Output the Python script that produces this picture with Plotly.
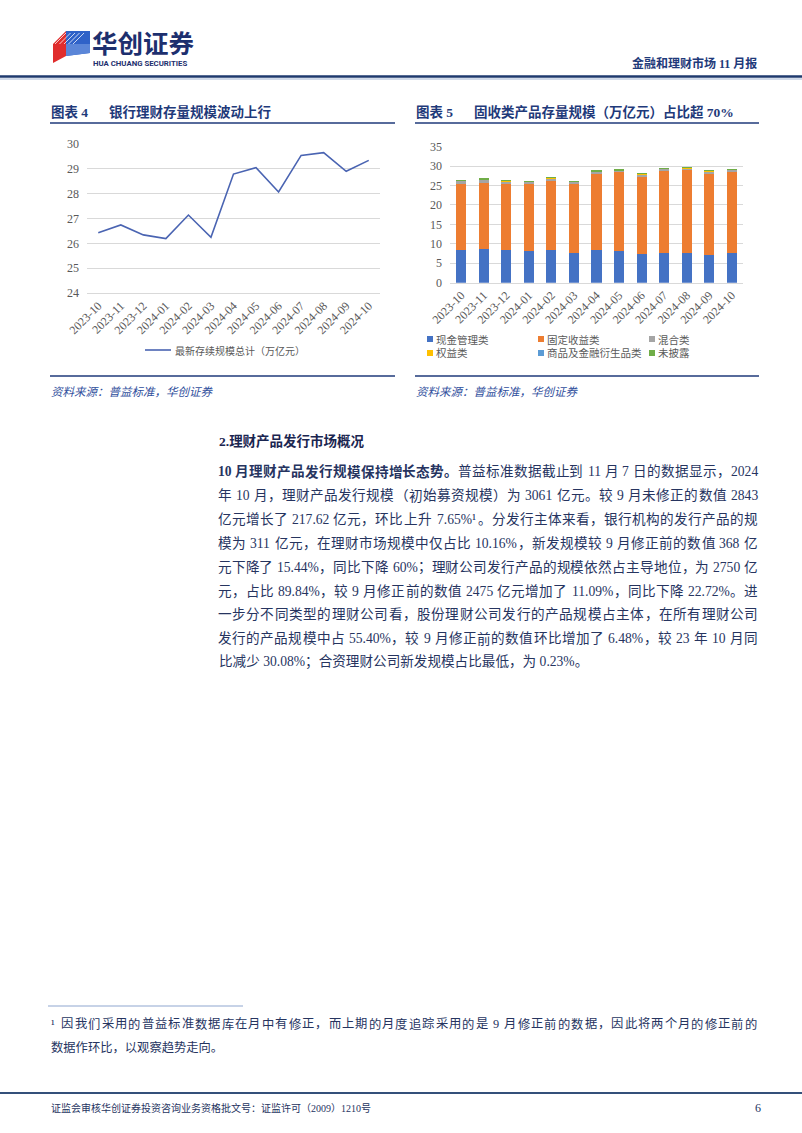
import plotly.graph_objects as go

# ---------------- data ----------------
months = ['2023-10', '2023-11', '2023-12', '2024-01', '2024-02', '2024-03', '2024-04',
          '2024-05', '2024-06', '2024-07', '2024-08', '2024-09', '2024-10']
total_scale = [26.43, 26.74, 26.34, 26.19, 27.14, 26.24, 28.79, 29.05, 28.07, 29.54, 29.65, 28.90, 29.34]
line_name = '最新存续规模总计（万亿元）'

cash_mgmt = [8.4, 8.6, 8.4, 8.1, 8.4, 7.6, 8.5, 8.2, 7.4, 7.6, 7.7, 7.2, 7.6]
fixed_income = [17.0, 17.1, 17.1, 17.3, 17.8, 17.8, 19.5, 20.2, 20.1, 21.2, 21.3, 21.1, 21.0]
mixed = [0.9, 0.9, 0.7, 0.7, 0.8, 0.7, 0.7, 0.55, 0.5, 0.6, 0.55, 0.5, 0.6]
equity = [0.07, 0.07, 0.07, 0.07, 0.07, 0.06, 0.06, 0.06, 0.06, 0.06, 0.06, 0.06, 0.06]
commodity = [0.02, 0.02, 0.02, 0.02, 0.02, 0.02, 0.02, 0.02, 0.02, 0.02, 0.02, 0.02, 0.02]
undisclosed = [0.06, 0.08, 0.06, 0.06, 0.08, 0.06, 0.06, 0.06, 0.05, 0.06, 0.08, 0.05, 0.05]
bar_names = ['现金管理类', '固定收益类', '混合类', '权益类', '商品及金融衍生品类', '未披露']
bar_series = [cash_mgmt, fixed_income, mixed, equity, commodity, undisclosed]
bar_colors = ['#4472C4', '#ED7D31', '#A5A5A5', '#FFC000', '#5B9BD5', '#70AD47']

y1_ticks = [24, 25, 26, 27, 28, 29, 30]
y2_ticks = [0, 5, 10, 15, 20, 25, 30, 35]

# ---------------- helpers ----------------
W, H = 802, 1133
def X(px):
    return px / W
def Y(py):
    return 1 - py / H

SERIF = 'Liberation Serif, Noto Sans CJK SC, serif'
CJK = 'Noto Sans CJK SC, Liberation Serif'
NAVY = '#1F3A7A'
BODY = '#26345f'
GRAY = '#595959'
GRID = '#D9D9D9'

fig = go.Figure()

# chart 4 line
fig.add_trace(go.Scatter(x=months, y=total_scale, mode='lines', name=line_name,
                         line=dict(color='#4A64B2', width=1.6),
                         xaxis='x', yaxis='y', showlegend=False))
# chart 5 stacked bars
for nm, vals, col in zip(bar_names, bar_series, bar_colors):
    fig.add_trace(go.Bar(x=months, y=vals, name=nm, marker=dict(color=col, line=dict(width=0)),
                         xaxis='x2', yaxis='y2', showlegend=False))

axis_font = dict(family=SERIF, size=12, color=GRAY)
fig.update_layout(
    width=W, height=H, margin=dict(l=0, r=0, t=0, b=0, autoexpand=False),
    paper_bgcolor='white', plot_bgcolor='white', showlegend=False,
    barmode='stack', bargap=0.55,
    xaxis=dict(domain=[X(87), X(380)], type='category', range=[-0.5, 12.5],
               showgrid=False, showline=True, linecolor=GRID, ticks='', automargin=False,
               tickangle=-45, tickfont=axis_font, anchor='y'),
    yaxis=dict(domain=[Y(293), Y(144)], range=[24, 30], tickvals=y1_ticks, automargin=False,
               showgrid=True, gridcolor=GRID, zeroline=False, showline=False,
               ticks='', tickfont=axis_font, anchor='x', ticklabelstandoff=7),
    xaxis2=dict(domain=[X(450), X(743)], type='category', range=[-0.5, 12.5],
                showgrid=False, showline=True, linecolor=GRID, ticks='', automargin=False,
                tickangle=-45, tickfont=axis_font, anchor='y2'),
    yaxis2=dict(domain=[Y(282.7), Y(146.7)], range=[0, 35], tickvals=y2_ticks, automargin=False,
                showgrid=True, gridcolor=GRID, zeroline=False, showline=False,
                ticks='', tickfont=axis_font, anchor='x2', ticklabelstandoff=7),
)

shapes = []
ann = []

def hline(x0, x1, y, color, width):
    shapes.append(dict(type='line', xref='paper', yref='paper', x0=X(x0), x1=X(x1),
                       y0=Y(y), y1=Y(y), line=dict(color=color, width=width)))

def text(x, y, s, size, color, family=CJK, xanchor='left', italic=False):
    ann.append(dict(x=X(x), y=Y(y), xref='paper', yref='paper', text=s, showarrow=False,
                    xanchor=xanchor, yanchor='middle', borderpad=0,
                    font=dict(family=family, size=size, color=color,
                              style='italic' if italic else 'normal')))

def path(pts, color):
    d = 'M ' + ' L '.join(f'{X(a):.5f},{Y(b):.5f}' for a, b in pts) + ' Z'
    shapes.append(dict(type='path', xref='paper', yref='paper', path=d,
                       fillcolor=color, line=dict(width=0)))

def char_w(c):
    if c == ' ':
        return 0.25
    if c.isdigit():
        return 0.5
    if c in '.,:;':
        return 0.25
    if c == '%':
        return 0.833
    if c == '¹':
        return 0.3
    if ord(c) < 128:
        return 0.5
    return 1.0

def is_latin(c):
    return c != ' ' and (ord(c) < 128 or c == '¹')

def justify(s, x0, x1, y, fs, color, bold_len=0):
    """Fully justified line: every CJK glyph / Latin run placed on its own, extra space spread evenly."""
    toks = []  # (text, start_index, is_space)
    i = 0
    while i < len(s):
        c = s[i]
        if c == ' ':
            toks.append((' ', i, True)); i += 1
        elif is_latin(c):
            j = i
            while j < len(s) and is_latin(s[j]):
                j += 1
            toks.append((s[i:j], i, False)); i = j
        else:
            toks.append((c, i, False)); i += 1
    widths = [sum(char_w(ch) for ch in t) for t, _, _ in toks]
    total = sum(widths) * fs
    target = x1 - x0
    if total > target:
        fs = fs * target / total
        total = target
    gap = (target - total) / max(len(toks) - 1, 1)
    pos = 0.0
    for k, ((t, si, sp), w) in enumerate(zip(toks, widths)):
        wpx = w * fs
        if not sp:
            cx = x0 + pos + wpx / 2 + k * gap
            tt = f'<b>{t}</b>' if si < bold_len else t
            text(cx, y, tt, fs, color, family=SERIF, xanchor='center')
        pos += wpx

# ---------------- header ----------------
path([(53, 44), (66, 31), (66, 56), (53, 63)], '#E02D2D')
path([(66, 31), (90, 31), (90, 53), (66, 56)], '#2F62C8')
path([(66, 44), (90, 44), (90, 53), (66, 56)], '#5B86D8')
for i in range(5):
    off = i * 4.5
    shapes.append(dict(type='line', xref='paper', yref='paper',
                       x0=X(55 + off), y0=Y(44), x1=X(66 + off), y1=Y(33),
                       line=dict(color='rgba(255,255,255,0.75)', width=1)))
text(91, 41, '<b>华创证券</b>', 25.5, '#1d2f6e', family=CJK)
text(92, 64, '<b>HUA CHUANG SECURITIES</b>', 7.8, '#1d2f6e', family='Roboto, Liberation Sans')
text(758, 63, '<b>金融和理财市场 11 月报</b>', 12, '#1F3A7A', family=SERIF, xanchor='right')
hline(0, 802, 76.5, '#1F3A6E', 2.5)
hline(0, 802, 79, '#8EA3C8', 0.8)

# ---------------- chart titles ----------------
text(50, 112, '<b>图表 4</b>', 13.5, NAVY, family=SERIF)
text(108, 112, '<b>银行理财存量规模波动上行</b>', 13.5, NAVY, family=SERIF)
hline(50, 395, 123, NAVY, 1.5)
text(415, 112, '<b>图表 5</b>', 13.5, NAVY, family=SERIF)
text(473, 112, '<b>固收类产品存量规模（万亿元）占比超 70%</b>', 13.5, NAVY, family=SERIF)
hline(415, 759, 123, NAVY, 1.5)

# chart 4 legend
shapes.append(dict(type='line', xref='paper', yref='paper', x0=X(145), x1=X(171),
                   y0=Y(350), y1=Y(350), line=dict(color='#4A64B2', width=1.6)))
text(174, 350, line_name, 10, GRAY)

# chart 5 legend (3 columns x 2 rows)
leg_pos = [(430, 339), (541, 339), (652, 339), (430, 353), (541, 353), (652, 353)]
for (lx, ly), nm, col in zip(leg_pos, bar_names, bar_colors):
    shapes.append(dict(type='rect', xref='paper', yref='paper', x0=X(lx - 3), x1=X(lx + 3),
                       y0=Y(ly + 3), y1=Y(ly - 3), fillcolor=col, line=dict(width=0)))
    text(lx + 5, ly, nm, 10.5, GRAY)

# sources
hline(50, 395, 376, NAVY, 1.5)
hline(415, 759, 376, NAVY, 1.5)
text(50, 391, '资料来源：普益标准，华创证券', 11.5, '#2F4E9C', italic=True)
text(415, 391, '资料来源：普益标准，华创证券', 11.5, '#2F4E9C', italic=True)

# ---------------- body text ----------------
text(218, 441, '<b>2.理财产品发行市场概况</b>', 13.5, '#1a2550', family=SERIF)
lead_bold = '10 月理财产品发行规模保持增长态势。'
body_lines = [
    lead_bold + '普益标准数据截止到 11 月 7 日的数据显示，2024',
    '年 10 月，理财产品发行规模（初始募资规模）为 3061 亿元。较 9 月未修正的数值 2843',
    '亿元增长了 217.62 亿元，环比上升 7.65%¹。分发行主体来看，银行机构的发行产品的规',
    '模为 311 亿元，在理财市场规模中仅占比 10.16%，新发规模较 9 月修正前的数值 368 亿',
    '元下降了 15.44%，同比下降 60%；理财公司发行产品的规模依然占主导地位，为 2750 亿',
    '元，占比 89.84%，较 9 月修正前的数值 2475 亿元增加了 11.09%，同比下降 22.72%。进',
    '一步分不同类型的理财公司看，股份理财公司发行的产品规模占主体，在所有理财公司',
    '发行的产品规模中占 55.40%，较 9 月修正前的数值环比增加了 6.48%，较 23 年 10 月同',
    '比减少 30.08%；合资理财公司新发规模占比最低，为 0.23%。',
]
for i, ln in enumerate(body_lines):
    yy = 472 + 23.8 * i
    if i < len(body_lines) - 1:
        justify(ln, 218, 758, yy, 13.6, BODY, bold_len=len(lead_bold) if i == 0 else 0)
    else:
        text(218, yy, ln, 13.6, BODY, family=SERIF)

# ---------------- footnote & footer ----------------
hline(48, 243, 1006, '#8FA6CF', 1)
justify('¹ 因我们采用的普益标准数据库在月中有修正，而上期的月度追踪采用的是 9 月修正前的数据，因此将两个月的修正前的',
        50, 757, 1024, 12.3, BODY)
text(50, 1047, '数据作环比，以观察趋势走向。', 12.3, BODY, family=SERIF)
hline(0, 802, 1093, '#34507A', 2)
text(50, 1108, '证监会审核华创证券投资咨询业务资格批文号：证监许可（2009）1210号', 10, BODY, family=SERIF)
text(762, 1108, '6', 12, BODY, family=SERIF, xanchor='right')

fig.update_layout(shapes=shapes, annotations=ann)
fig.write_html('out.html',
               post_script="document.body.style.margin='0';document.body.style.padding='0';"
                           "document.documentElement.style.margin='0';")
